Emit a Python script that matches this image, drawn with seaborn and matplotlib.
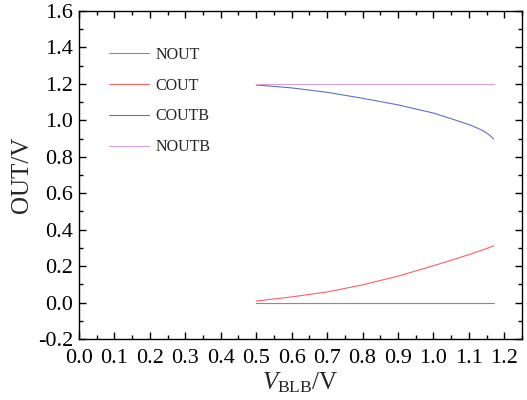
import numpy as np
import pandas as pd
import matplotlib
matplotlib.use("Agg")
import matplotlib.pyplot as plt
import seaborn as sns
from matplotlib.ticker import MultipleLocator

# ---- data ----
vblb = [0.50, 0.60, 0.70, 0.80, 0.90, 1.00, 1.05, 1.10, 1.12, 1.14, 1.155, 1.17]
nout = [0.0, 0.0, 0.0, 0.0, 0.0, 0.0, 0.0, 0.0, 0.0, 0.0, 0.0, 0.0]
cout = [0.008, 0.031, 0.058, 0.097, 0.145, 0.202, 0.232, 0.263, 0.276, 0.290, 0.300, 0.311]
coutb = [1.194, 1.178, 1.154, 1.121, 1.085, 1.040, 1.009, 0.977, 0.961, 0.943, 0.924, 0.898]
noutb = [1.200] * 12
series_names = ["NOUT", "COUT", "COUTB", "NOUTB"]
colors = ["#8c8c8c", "#ff6060", "#6070c8", "#d8a0dc"]

df = pd.concat([
    pd.DataFrame({"x": vblb, "y": vals, "s": name})
    for name, vals in zip(series_names, [nout, cout, coutb, noutb])
], ignore_index=True)

sns.set_theme(style="ticks")
plt.rcParams["font.family"] = ["Liberation Serif", "DejaVu Serif"]
plt.rcParams["mathtext.fontset"] = "custom"
plt.rcParams["mathtext.rm"] = "Liberation Serif"
plt.rcParams["mathtext.it"] = "Liberation Serif:italic"

fig = plt.figure(figsize=(5.27, 4.0), dpi=100)
ax = fig.add_axes([79/527, 1-339/400, 443/527, 328/400])

sns.lineplot(data=df, x="x", y="y", hue="s", palette=dict(zip(series_names, colors)),
             linewidth=0.8, ax=ax, legend=True, sort=False)

ax.set_xlim(0, 1.25)
ax.set_ylim(-0.2, 1.6)
ax.xaxis.set_major_locator(MultipleLocator(0.1))
ax.xaxis.set_minor_locator(MultipleLocator(0.05))
ax.yaxis.set_major_locator(MultipleLocator(0.2))
ax.yaxis.set_minor_locator(MultipleLocator(0.1))
ax.xaxis.set_major_formatter(matplotlib.ticker.FormatStrFormatter("%.1f"))
ax.yaxis.set_major_formatter(matplotlib.ticker.FormatStrFormatter("%.1f"))

ax.tick_params(which="both", direction="in", top=True, right=True, colors="black",
               labelsize=16, width=1)
ax.tick_params(which="major", length=5)
ax.tick_params(axis="y", which="major", pad=4)
ax.tick_params(axis="x", which="major", pad=7)
ax.tick_params(which="minor", length=3)
for sp in ax.spines.values():
    sp.set_visible(True)
    sp.set_linewidth(1)
    sp.set_color("black")

ax.set_xlabel(r"$V_{\mathrm{BLB}}$/V", fontsize=18, labelpad=2)
ax.set_ylabel("OUT/V", fontsize=18, labelpad=4)

handles, labels = ax.get_legend_handles_labels()
ax.legend(handles, labels, loc="upper left", bbox_to_anchor=(0.068, 0.89),
          frameon=False, fontsize=11.5, handlelength=2.5, handletextpad=0.4,
          labelspacing=0.92, borderpad=0, borderaxespad=0)

fig.savefig("out.png", dpi=100)
